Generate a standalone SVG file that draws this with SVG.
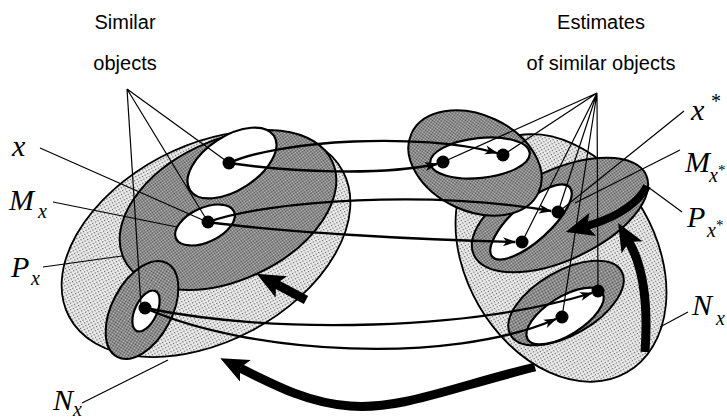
<svg xmlns="http://www.w3.org/2000/svg" width="727" height="420" viewBox="0 0 727 420">
<defs>
  <pattern id="light" width="3" height="3" patternUnits="userSpaceOnUse">
    <rect width="3" height="3" fill="#efefef"/>
    <rect x="1" y="1" width="1.3" height="1.3" fill="#606060"/>
  </pattern>
  <pattern id="dark" width="2" height="2" patternUnits="userSpaceOnUse">
    <rect width="2" height="2" fill="#c8c8c8"/>
    <rect x="0" y="0" width="1" height="1" fill="#4a4a4a"/>
    <rect x="1" y="1" width="1" height="1" fill="#4a4a4a"/>
  </pattern>
  <marker id="thin" markerUnits="userSpaceOnUse" markerWidth="14" markerHeight="10" refX="12" refY="4.5" orient="auto" overflow="visible">
    <path d="M0,0 L13,4.5 L0,9 L3.5,4.5 z" fill="#000"/>
  </marker>
  <marker id="thick" markerUnits="userSpaceOnUse" markerWidth="30" markerHeight="26" refX="6" refY="12" orient="auto" overflow="visible">
    <path d="M0,0 L28,12 L0,24 L6,12 z" fill="#000"/>
  </marker>
  <style>
    .lt{fill:url(#light);stroke:#000;stroke-width:1.8}
    .dk{fill:url(#dark);stroke:#000;stroke-width:2}
    .wh{fill:#fff;stroke:#000;stroke-width:2.2}
    .dot{fill:#000}
    .ptr{fill:none;stroke:#000;stroke-width:1.2}
    .con{fill:none;stroke:#000;stroke-width:2.3;marker-end:url(#thin)}
    .big{fill:none;stroke:#000;stroke-width:9;marker-end:url(#thick)}
    .cap{font-family:"Liberation Sans",Arial,sans-serif;font-size:20px;fill:#000;text-anchor:middle}
    .lab{font-family:"Liberation Serif","Times New Roman",serif;font-style:italic;font-size:30px;fill:#000}
    .sub{font-family:"Liberation Serif","Times New Roman",serif;font-style:italic;font-size:20px;fill:#000}
    .ast{font-family:"Liberation Serif","Times New Roman",serif;font-size:15px;fill:#000}
  </style>
</defs>
<rect width="727" height="420" fill="#fff"/>

<!-- Left cluster -->
<g id="P_x">
  <ellipse class="lt" cx="206" cy="244" rx="155" ry="98" transform="rotate(-28 206 244)"/>
</g>
<g id="M_x">
  <ellipse class="dk" cx="228" cy="210" rx="115" ry="70" transform="rotate(-25 228 210)"/>
</g>
<g id="obj_top">
  <ellipse class="wh" cx="232" cy="163" rx="50" ry="27" transform="rotate(-33 232 163)"/>
</g>
<g id="obj_x">
  <ellipse class="wh" cx="205" cy="225" rx="32" ry="17" transform="rotate(-25 205 225)"/>
</g>
<g id="N_x">
  <ellipse class="dk" cx="142" cy="310" rx="53" ry="30" transform="rotate(-62 142 310)"/>
  <ellipse class="wh" cx="146" cy="311" rx="22" ry="11" transform="rotate(-65 146 311)"/>
</g>

<!-- Right cluster -->
<g id="P_xs">
  <ellipse class="lt" cx="561" cy="258" rx="132" ry="95" transform="rotate(60 561 258)"/>
</g>
<g id="M_xs">
  <ellipse class="dk" cx="560" cy="215" rx="95" ry="45" transform="rotate(-25 560 215)"/>
  <ellipse class="wh" cx="531" cy="222" rx="52" ry="19" transform="rotate(-42 531 222)"/>
</g>
<g id="N_xs">
  <ellipse class="dk" cx="566" cy="303" rx="64" ry="32" transform="rotate(-30 566 303)"/>
  <ellipse class="wh" cx="565" cy="316" rx="44" ry="19" transform="rotate(-32 565 316)"/>
</g>
<g id="obj_xs_top">
  <ellipse class="dk" cx="475" cy="163" rx="70" ry="48" transform="rotate(25 475 163)"/>
  <ellipse class="wh" cx="480" cy="158" rx="50" ry="20" transform="rotate(-6 480 158)"/>
</g>

<!-- connectors -->
<g id="connectors">
  <path class="big" d="M535,367 C450,388 400,410 350,406 C310,403 280,388 240,368"/>
  <path class="big" d="M306,300 L276,284"/>
  <path class="big" d="M645,352 C648,310 645,270 629,242"/>
  <path class="big" style="stroke-width:8" d="M647,186 C640,200 622,216 587,226"/>

  <path class="con" d="M229,163 C280,140 420,132 497,153"/>
  <path class="con" d="M229,163 C290,172 380,176 437,164"/>
  <path class="con" d="M208,222 C270,200 430,190 551,211"/>
  <path class="con" d="M208,222 C280,232 420,240 515,242"/>
  <path class="con" d="M145,308 C280,335 470,330 592,293"/>
  <path class="con" d="M145,308 C250,355 450,365 556,319"/>

  <!-- pointer lines -->
  <path class="ptr" d="M127,89 L229,163 M127,89 L208,222 M127,89 L141,305"/>
  <path class="ptr" d="M597,93 L443,162 M597,93 L503,155 M597,93 L558,212 M597,93 L522,242 M597,93 L598,291 M597,93 L562,317"/>
  <path class="ptr" d="M40,148 L205,221 M53,202 L177,227 M43,267 L122,256 M82,403 L168,360"/>
  <path class="ptr" d="M684,111 L561,210 M680,150 L575,203 M682,212 L648,187 M688,312 L660,327"/>
</g>

<!-- dots -->
<g id="dots">
  <circle class="dot" cx="229" cy="163" r="6.5"/>
  <circle class="dot" cx="208" cy="222" r="6.5"/>
  <circle class="dot" cx="145" cy="308" r="6.5"/>
  <circle class="dot" cx="443" cy="162" r="6.5"/>
  <circle class="dot" cx="503" cy="155" r="6.5"/>
  <circle class="dot" cx="558" cy="212" r="6.5"/>
  <circle class="dot" cx="522" cy="242" r="6.5"/>
  <circle class="dot" cx="598" cy="291" r="6.5"/>
  <circle class="dot" cx="562" cy="317" r="6.5"/>
</g>

<!-- captions -->
<g id="captions">
  <text class="cap" x="125" y="29">Similar</text>
  <text class="cap" x="125" y="70">objects</text>
  <text class="cap" x="601" y="29">Estimates</text>
  <text class="cap" x="601" y="70">of similar objects</text>
</g>

<g id="labels">
  <text class="lab" x="12" y="156">x</text>
  <text class="lab" x="9" y="210">M</text><text class="sub" x="38" y="218">x</text>
  <text class="lab" x="11" y="277">P</text><text class="sub" x="31" y="285">x</text>
  <text class="lab" x="53" y="410">N</text><text class="sub" x="73" y="416">x</text>

  <text class="lab" x="691" y="120">x</text><text class="ast" x="711" y="108" style="font-size:20px">*</text>
  <text class="lab" x="685" y="172">M</text><text class="sub" x="709" y="182">x</text><text class="ast" x="718" y="175">*</text>
  <text class="lab" x="687" y="227">P</text><text class="sub" x="707" y="237">x</text><text class="ast" x="716" y="230">*</text>
  <text class="lab" x="692" y="315">N</text><text class="sub" x="716" y="325">x</text>
</g>
</svg>
